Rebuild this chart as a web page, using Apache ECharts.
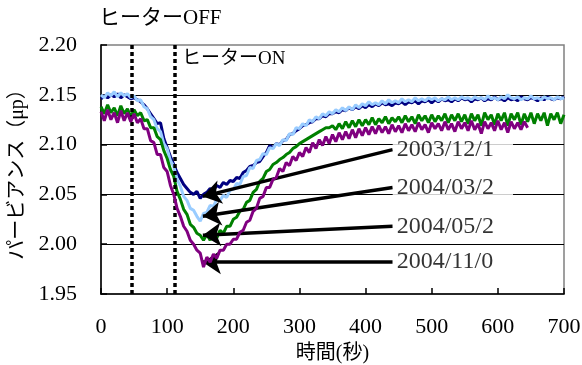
<!DOCTYPE html>
<html><head><meta charset="utf-8">
<script src="https://cdn.jsdelivr.net/npm/echarts@6/dist/echarts.min.js"></script>
<style>html,body{margin:0;padding:0;background:#fff}#c{width:582px;height:365px}</style>
</head><body><div id="c"></div>
<script>
const times = [
 0,5,10,15,20,25,30,35,40,45, 50,55,60,65,70,75,80,85,90,95,
 100,105,110,115,120,125,130,135,140,145, 150,155,160,165,170,175,180,185,190,195,
 200,205,210,215,220,225,230,235,240,245, 250,255,260,265,270,275,280,285,290,295,
 300,305,310,315,320,325,330,335,340,345, 350,355,360,365,370,375,380,385,390,395,
 400,405,410,415,420,425,430,435,440,445, 450,455,460,465,470,475,480,485,490,495,
 500,505,510,515,520,525,530,535,540,545, 550,555,560,565,570,575,580,585,590,595,
 600,605,610,615,620,625,630,635,640,645, 650,655,660,665,670,675,680,685,690,695,
 700];
const navy = [
 2.146,2.149,2.147,2.150,2.148,2.151,2.147,2.150,2.148,2.146,
 2.147,2.145,2.143,2.140,2.136,2.131,2.126,2.121,2.122,2.106,
 2.097,2.088,2.080,2.072,2.066,2.060,2.056,2.052,2.050,2.053,
 2.046,2.050,2.052,2.056,2.054,2.059,2.057,2.062,2.060,2.064,
 2.063,2.067,2.066,2.072,2.074,2.078,2.079,2.082,2.083,2.088,
 2.092,2.099,2.097,2.101,2.100,2.104,2.105,2.110,2.111,2.114,
 2.116,2.119,2.120,2.122,2.123,2.126,2.126,2.129,2.128,2.131,
 2.131,2.133,2.132,2.135,2.134,2.137,2.135,2.138,2.136,2.139,
 2.137,2.140,2.138,2.141,2.139,2.142,2.140,2.141,2.139,2.142,
 2.141,2.143,2.140,2.143,2.142,2.144,2.141,2.144,2.143,2.145,
 2.142,2.145,2.143,2.146,2.144,2.145,2.143,2.146,2.144,2.147,
 2.145,2.146,2.143,2.146,2.145,2.147,2.144,2.146,2.145,2.148,
 2.145,2.146,2.144,2.147,2.145,2.146,2.144,2.148,2.146,2.145,
 2.147,2.146,2.144,2.147,2.145,2.148,2.146,2.145,2.147,2.146,
 2.148];
const lightBlue = [
 2.150,2.147,2.152,2.149,2.153,2.148,2.152,2.149,2.151,2.147,
 2.149,2.144,2.145,2.138,2.136,2.128,2.125,2.116,2.113,2.101,
 2.096,2.084,2.078,2.065,2.058,2.048,2.044,2.036,2.034,2.028,
 2.023,2.031,2.032,2.039,2.038,2.045,2.044,2.049,2.047,2.054,
 2.055,2.061,2.060,2.068,2.069,2.077,2.076,2.084,2.085,2.091,
 2.090,2.097,2.096,2.101,2.099,2.105,2.104,2.111,2.110,2.117,
 2.116,2.121,2.119,2.125,2.123,2.128,2.126,2.131,2.129,2.133,
 2.131,2.135,2.133,2.137,2.134,2.138,2.135,2.140,2.137,2.141,
 2.139,2.143,2.140,2.142,2.140,2.144,2.141,2.145,2.142,2.144,
 2.142,2.146,2.143,2.145,2.143,2.147,2.144,2.146,2.144,2.147,
 2.145,2.147,2.144,2.146,2.145,2.148,2.145,2.147,2.145,2.148,
 2.146,2.147,2.145,2.148,2.146,2.147,2.145,2.149,2.146,2.147,
 2.145,2.148,2.146,2.150,2.147,2.146,2.148,2.145,2.147,2.146,
 2.149,2.146,2.147,2.145,2.148,2.146,2.147,2.145,2.148,2.146,
 2.147];
const green = [
 2.138,2.131,2.140,2.132,2.137,2.129,2.139,2.131,2.136,2.128,
 2.135,2.129,2.132,2.124,2.125,2.117,2.117,2.108,2.105,2.094,
 2.086,2.075,2.068,2.053,2.045,2.035,2.030,2.020,2.017,2.011,
 2.009,2.004,2.010,2.004,2.012,2.006,2.014,2.011,2.018,2.018,
 2.025,2.027,2.033,2.035,2.042,2.044,2.052,2.055,2.063,2.066,
 2.073,2.075,2.080,2.082,2.085,2.087,2.090,2.092,2.096,2.098,
 2.101,2.103,2.105,2.107,2.109,2.111,2.113,2.115,2.117,2.117,
 2.119,2.115,2.121,2.116,2.123,2.117,2.124,2.118,2.125,2.119,
 2.125,2.120,2.127,2.120,2.126,2.122,2.128,2.121,2.127,2.123,
 2.128,2.122,2.129,2.123,2.128,2.121,2.130,2.124,2.129,2.122,
 2.130,2.123,2.129,2.124,2.131,2.122,2.130,2.124,2.131,2.123,
 2.130,2.121,2.131,2.124,2.130,2.119,2.132,2.125,2.130,2.120,
 2.131,2.124,2.132,2.119,2.131,2.125,2.132,2.120,2.131,2.123,
 2.132,2.121,2.131,2.124,2.132,2.119,2.131,2.125,2.132,2.121,
 2.130];
const purple = [
 2.133,2.124,2.135,2.125,2.132,2.122,2.134,2.124,2.132,2.123,
 2.131,2.122,2.126,2.116,2.116,2.104,2.102,2.090,2.090,2.077,
 2.073,2.059,2.050,2.036,2.028,2.018,2.013,2.004,2.000,1.994,
 1.991,1.977,1.987,1.982,1.990,1.986,1.994,1.994,2.000,2.000,
 2.005,2.005,2.012,2.014,2.022,2.024,2.033,2.036,2.046,2.048,
 2.057,2.057,2.065,2.067,2.076,2.073,2.082,2.079,2.088,2.084,
 2.092,2.088,2.097,2.092,2.102,2.096,2.105,2.099,2.108,2.101,
 2.110,2.103,2.112,2.105,2.113,2.106,2.115,2.107,2.116,2.109,
 2.117,2.110,2.118,2.111,2.119,2.112,2.118,2.111,2.120,2.113,
 2.119,2.112,2.121,2.114,2.120,2.113,2.122,2.115,2.120,2.112,
 2.122,2.116,2.121,2.114,2.123,2.115,2.121,2.113,2.123,2.116,
 2.122,2.114,2.124,2.115,2.121,2.111,2.123,2.116,2.122,2.114,
 2.124,2.115,2.122,2.112,2.123,2.116,2.122,2.115,2.123,2.117];
const seriesNames = ['2003/12/1', '2004/03/2', '2004/05/2', '2004/11/0'];
// arrow start (label anchor) and arrow tip, in data units
const arrowStart = [[441, 2.095], [441, 2.057], [441, 2.018], [441, 1.982]];
const arrowTip = [[154, 2.048], [154, 2.028], [154, 2.009], [154, 1.982]];
const heaterLines = [46, 112];
const heaterLabels = ['ヒーターOFF', 'ヒーターON'];
const yTicks = ['1.95', '2.00', '2.05', '2.10', '2.15', '2.20'];
const xTitle = '時間(秒)';
const yTitle = 'パービアンス（μp）';

const FONT = "'Liberation Serif', 'Times New Roman', 'Noto Sans CJK JP', serif";
function pairs(vals) { return vals.map((v, i) => [times[i], v]); }

const chart = echarts.init(document.getElementById('c'), null, {renderer: 'canvas'});
const colors = ['#000080', '#99CCFF', '#008000', '#800080'];
const vals = [navy, lightBlue, green, purple];
const lineSeries = vals.map((v, k) => ({
  type: 'line', name: seriesNames[k], data: pairs(v), showSymbol: false, symbol: 'none',
  lineStyle: {color: colors[k], width: 3}, itemStyle: {color: colors[k]}, z: 2 + k,
  silent: true
}));

chart.setOption({
  animation: false,
  backgroundColor: '#fff',
  grid: {left: 101, right: 18, top: 45, bottom: 71, containLabel: false, outerBoundsMode: 'none',
    show: true, borderColor: '#808080', borderWidth: 1.5, backgroundColor: 'transparent'},
  xAxis: {
    type: 'value', min: 0, max: 700, interval: 100,
    name: xTitle, nameLocation: 'middle', nameGap: 50,
    nameTextStyle: {fontFamily: FONT, fontSize: 20, color: '#000'},
    axisLine: {show: true, lineStyle: {color: '#000', width: 1.5}},
    axisTick: {show: true, inside: true, length: 6, lineStyle: {color: '#000', width: 1.5}},
    axisLabel: {fontFamily: FONT, fontSize: 22, color: '#000', margin: 22},
    splitLine: {show: false}
  },
  yAxis: {
    type: 'value', min: 1.95, max: 2.20, interval: 0.05,
    name: yTitle, nameLocation: 'middle', nameGap: 63, nameRotate: 90,
    nameTextStyle: {fontFamily: FONT, fontSize: 20, color: '#000'},
    axisLine: {show: true, lineStyle: {color: '#000', width: 1.5}},
    axisTick: {show: true, inside: true, length: 6, lineStyle: {color: '#000', width: 1.5}},
    axisLabel: {fontFamily: FONT, fontSize: 22, color: '#000', margin: 24,
      formatter: v => yTicks.find(t => Math.abs(parseFloat(t) - v) < 1e-6) || v.toFixed(2)},
    splitLine: {show: true, showMinLine: false, showMaxLine: false, lineStyle: {color: '#000', width: 1}}
  },
  series: lineSeries.concat([
    {
      type: 'line', data: [], silent: true, z: 10,
      markLine: {
        silent: true, symbol: ['none', 'none'], animation: false,
        label: {show: false},
        lineStyle: {color: '#000', width: 3.5, type: [4, 3]},
        data: heaterLines.map(x => ({xAxis: x}))
      }
    },
    {
      type: 'line', data: [], silent: true, z: 11,
      markLine: {
        silent: true, symbol: ['none', 'arrow'], symbolSize: 18, animation: false,
        label: {show: false},
        itemStyle: {color: '#000'},
        lineStyle: {color: '#000', width: 3.5, type: 'solid'},
        data: arrowStart.map((s, k) => [{coord: s}, {coord: arrowTip[k]}])
      }
    },
    {
      type: 'scatter', symbolSize: 0, silent: true, z: 12,
      data: arrowStart.map((s, k) => ({value: s, name: seriesNames[k]})),
      label: {
        show: true, position: 'right', distance: 0, formatter: p => p.name,
        fontFamily: FONT, fontSize: 24, color: '#000',
        backgroundColor: '#fff', padding: [2, 19, 0, 4]
      }
    }
  ]),
  graphic: [
    {type: 'text', left: 99, top: 8, style: {text: heaterLabels[0], font: "21px " + FONT, fill: '#000'}},
    {type: 'text', left: 182, top: 50, style: {text: heaterLabels[1], font: "19px " + FONT, fill: '#000'}}
  ]
});
</script>
</body></html>
